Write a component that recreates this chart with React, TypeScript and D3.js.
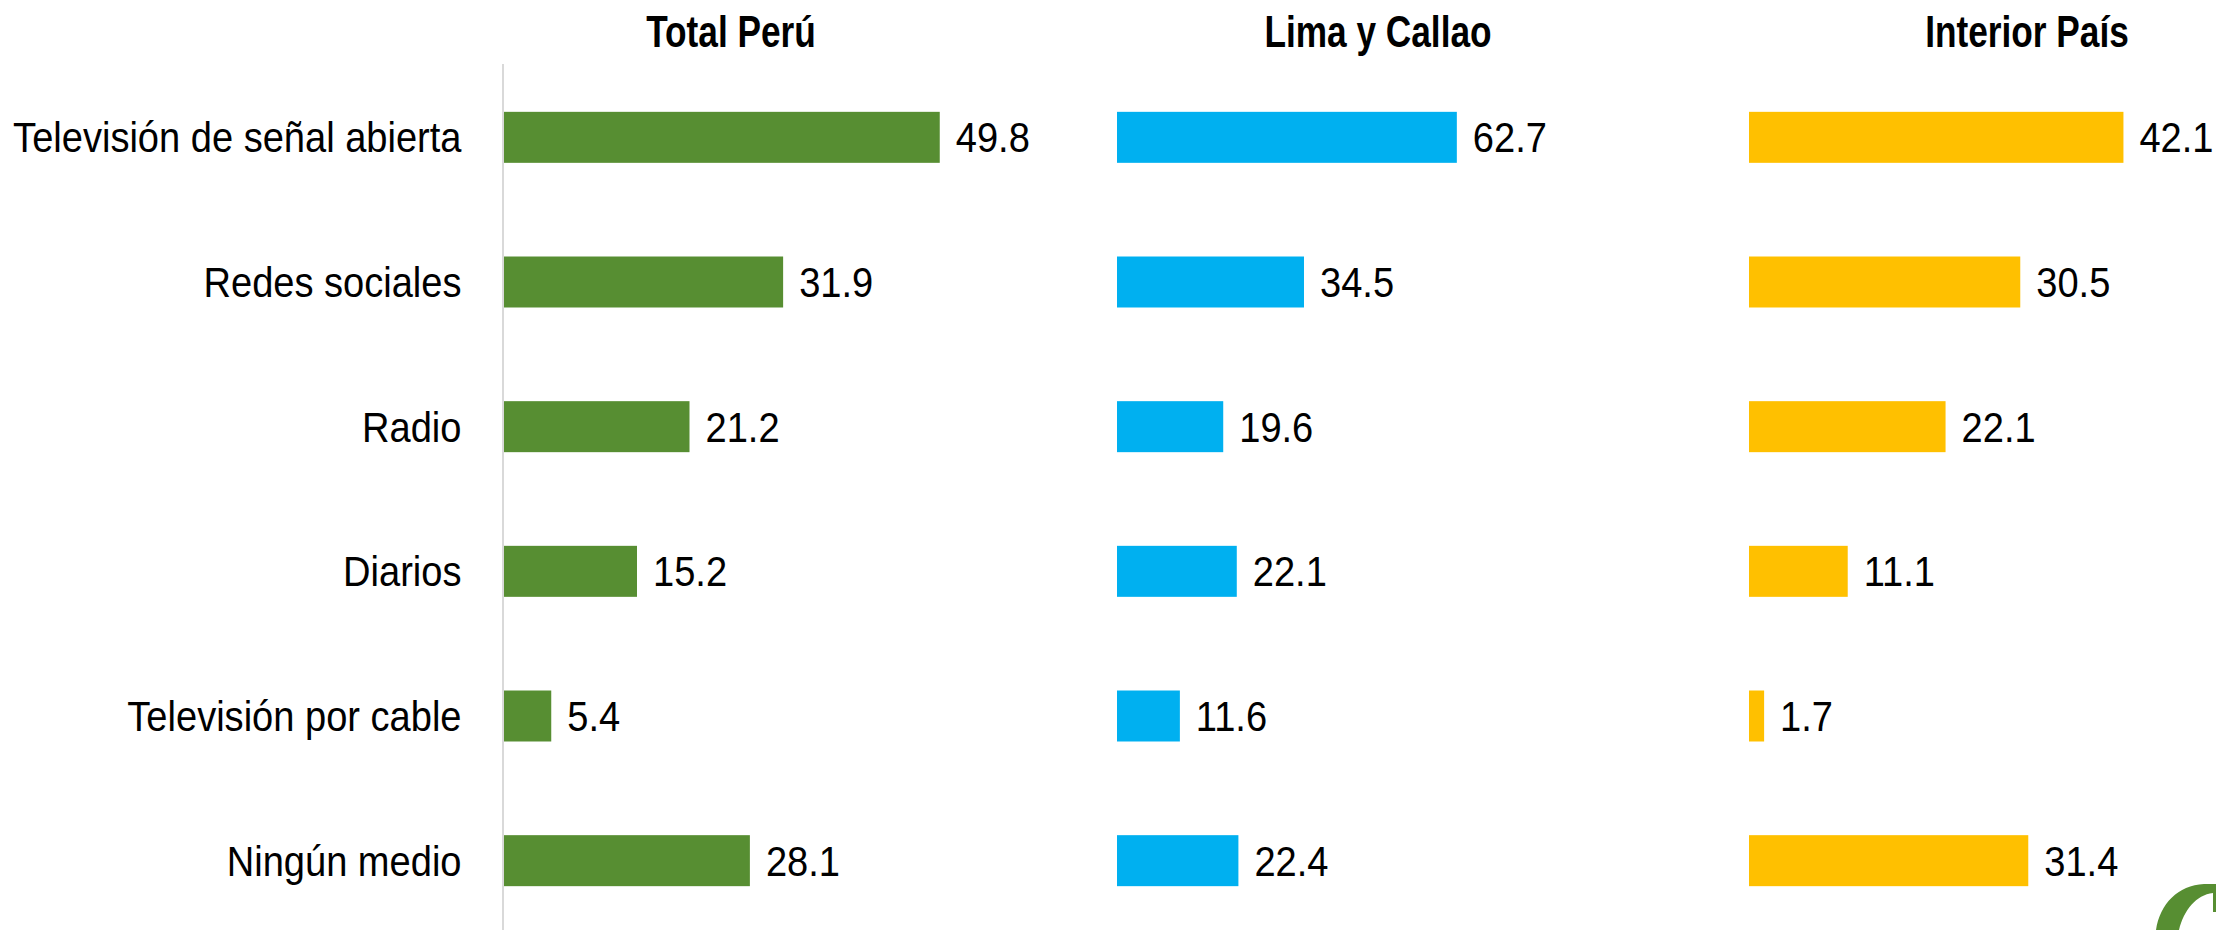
import React from "react";
import * as d3 from "d3";

const categories = [
  "Televisión de señal abierta",
  "Redes sociales",
  "Radio",
  "Diarios",
  "Televisión por cable",
  "Ningún medio",
];
const panelTitles = ["Total Perú", "Lima y Callao", "Interior País"];
const totalPeru = [49.8, 31.9, 21.2, 15.2, 5.4, 28.1];
const limaCallao = [62.7, 34.5, 19.6, 22.1, 11.6, 22.4];
const interiorPais = [42.1, 30.5, 22.1, 11.1, 1.7, 31.4];
const seriesValues = [totalPeru, limaCallao, interiorPais];
const seriesColors = ["#578E32", "#00B0F0", "#FFC000"];

const W = 2216;
const H = 930;
const FONT = "'Liberation Sans', Arial, sans-serif";

// layout per panel: x start, domain max, range width, title center
const panelLayout = [
  { x0: 504, max: 60, width: 525, titleX: 731 },
  { x0: 1117, max: 70, width: 379.4, titleX: 1378 },
  { x0: 1749, max: 50, width: 444.7, titleX: 2027 },
];

export default function App() {
  const y = d3
    .scaleBand<string>()
    .domain(categories)
    .range([65, 933])
    .paddingInner(0.6475)
    .paddingOuter(0.6475 / 2);

  const fs = 43;
  const sx = 0.885;

  return (
    <svg
      width={W}
      height={H}
      style={{ position: "absolute", left: 0, top: 0, display: "block", background: "#fff" }}
    >
      <rect x={0} y={0} width={W} height={H} fill="#fff" />
      {/* titles */}
      {panelTitles.map((t, i) => (
        <g key={t} transform={`translate(${panelLayout[i].titleX},46.5) scale(0.81,1)`}>
          <text
            x={0}
            y={0}
            textAnchor="middle"
            fontFamily={FONT}
            fontWeight="bold"
            fontSize={43.5}
            fill="#000"
          >
            {t}
          </text>
        </g>
      ))}
      {/* axis line */}
      <line x1={503} x2={503} y1={64} y2={H} stroke="#D9D9D9" strokeWidth={2} />
      {/* category labels */}
      {categories.map((c) => {
        const cy = (y(c) as number) + y.bandwidth() / 2;
        return (
          <g key={c} transform={`translate(461.5,${cy + 15}) scale(${sx},1)`}>
            <text x={0} y={0} textAnchor="end" fontFamily={FONT} fontSize={fs} fill="#000">
              {c}
            </text>
          </g>
        );
      })}
      {/* bars */}
      {seriesValues.map((vals, si) => {
        const p = panelLayout[si];
        const x = d3.scaleLinear().domain([0, p.max]).range([p.x0, p.x0 + p.width]);
        return (
          <g key={si}>
            {vals.map((v, i) => {
              const c = categories[i];
              const by = y(c) as number;
              const cy = by + y.bandwidth() / 2;
              return (
                <g key={c}>
                  <rect
                    x={x(0)}
                    y={by}
                    width={x(v) - x(0)}
                    height={y.bandwidth()}
                    fill={seriesColors[si]}
                  />
                  <g transform={`translate(${x(v) + 16},${cy + 15}) scale(${sx},1)`}>
                    <text x={0} y={0} fontFamily={FONT} fontSize={fs} fill="#000">
                      {v.toFixed(1)}
                    </text>
                  </g>
                </g>
              );
            })}
          </g>
        );
      })}
      {/* logo fragment bottom-right */}
      <path
        d="M2156,930 C2160,904 2178,885 2204,884 L2216,884 L2216,912 L2213,912 L2213,893 C2196,895 2184,910 2179,930 Z"
        fill="#578E32"
      />
    </svg>
  );
}
